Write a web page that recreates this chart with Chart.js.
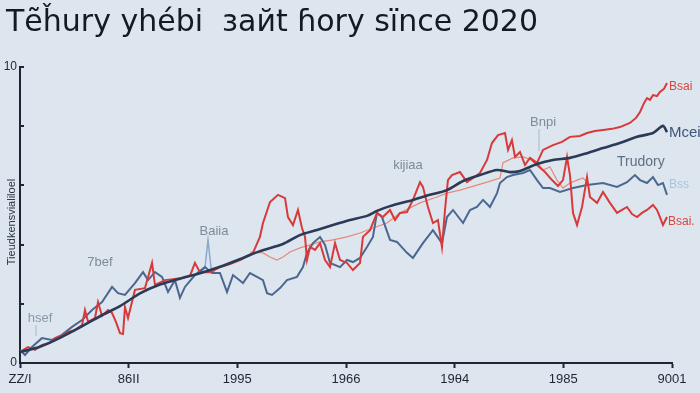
<!DOCTYPE html>
<html>
<head>
<meta charset="utf-8">
<script src="https://cdn.jsdelivr.net/npm/chart.js@4.4.0/dist/chart.umd.min.js"></script>
<style>
  html, body { margin: 0; padding: 0; background: #dde6ee; }
  #cnv { display: block; }
</style>
</head>
<body>
<canvas id="cnv" width="700" height="393"></canvas>
<script>
(function(){

    // tick labels along the bottom (x = 0..6)
    var xLabels = ["ZZ/I", "86II", "1995", "1966", "19θ4", "1985", "9001"];

    // dark navy trend line
    var navyX = [0,0.184,0.368,0.552,0.736,0.92,1.104,1.288,1.472,1.656,1.84,2.052,2.208,2.42,2.577,2.733,2.88,3.037,3.193,3.285,3.405,3.616,3.773,3.929,4.077,4.233,4.39,4.509,4.601,4.758,4.905,5.061,5.218,5.365,5.521,5.678,5.825,5.917,5.954];
    var navyY = [0.37,0.55,0.85,1.20,1.58,1.92,2.35,2.65,2.85,3.03,3.25,3.55,3.78,4.02,4.32,4.49,4.66,4.83,4.97,5.14,5.30,5.51,5.68,5.84,6.15,6.35,6.52,6.45,6.49,6.72,6.86,6.93,7.09,7.26,7.43,7.64,7.77,8.01,7.80];

    // main red series (ends high, "Bsai")
    var redX = [0,0.074,0.138,0.202,0.276,0.322,0.386,0.442,0.506,0.571,0.598,0.626,0.69,0.718,0.755,0.81,0.847,0.883,0.92,0.948,0.966,0.994,1.058,1.15,1.215,1.242,1.334,1.426,1.491,1.564,1.61,1.656,1.748,1.84,1.932,2.024,2.144,2.208,2.236,2.301,2.374,2.439,2.466,2.512,2.558,2.595,2.623,2.641,2.669,2.715,2.761,2.807,2.853,2.899,2.945,3.009,3.064,3.129,3.156,3.221,3.285,3.34,3.405,3.451,3.497,3.561,3.616,3.681,3.708,3.754,3.8,3.846,3.883,3.911,3.938,3.975,4.049,4.113,4.169,4.233,4.298,4.343,4.399,4.463,4.491,4.527,4.555,4.601,4.647,4.693,4.758,4.813,4.905,4.988,5.061,5.153,5.218,5.291,5.365,5.448,5.521,5.613,5.669,5.706,5.742,5.77,5.797,5.825,5.862,5.889,5.926,5.954];
    var redY = [0.37,0.54,0.44,0.61,0.68,0.84,0.91,1.05,1.11,1.28,1.79,1.39,1.52,2.06,1.59,1.79,1.69,1.39,1.01,0.98,1.89,1.52,2.47,2.53,3.38,2.64,2.80,2.84,2.87,2.94,3.38,3.07,3.07,3.24,3.34,3.48,3.72,4.26,4.73,5.44,5.68,5.57,4.93,4.66,5.17,4.56,4.26,3.48,3.92,3.82,4.05,3.48,3.24,4.05,3.48,3.38,3.14,3.38,4.26,4.49,5.07,4.93,5.17,4.83,5.07,5.10,5.51,6.11,5.95,5.27,4.73,4.83,3.92,5.17,6.18,6.35,6.45,6.11,6.25,6.42,6.86,7.43,7.70,7.77,7.20,7.53,6.96,7.13,6.69,6.93,6.76,7.20,7.36,7.47,7.64,7.67,7.77,7.84,7.87,7.91,7.97,8.11,8.28,8.48,8.78,8.95,8.89,9.05,9.02,9.16,9.26,9.46];

    // red branch that falls away ("Bsai.")
    var redLowX = [4.693,4.758,4.831,4.896,4.951,4.997,5.034,5.061,5.089,5.126,5.172,5.218,5.245,5.31,5.365,5.429,5.494,5.54,5.586,5.632,5.678,5.724,5.77,5.825,5.862,5.889,5.917,5.954];
    var redLowY = [6.93,6.69,6.45,6.18,5.98,6.18,6.96,6.35,5.07,4.66,5.27,6.28,5.61,5.41,5.78,5.41,5.07,5.17,5.27,5.03,4.93,5.07,5.17,5.34,5.17,4.93,4.66,4.93];

    // steel blue noisy series ("Bss")
    var blueX = [0,0.046,0.11,0.202,0.294,0.386,0.479,0.571,0.663,0.755,0.847,0.902,0.966,1.058,1.132,1.178,1.242,1.307,1.362,1.426,1.472,1.518,1.61,1.702,1.767,1.84,1.905,1.96,2.052,2.116,2.181,2.236,2.273,2.319,2.393,2.457,2.549,2.604,2.641,2.696,2.761,2.807,2.853,2.945,3.009,3.064,3.129,3.193,3.248,3.285,3.331,3.405,3.469,3.561,3.616,3.708,3.8,3.883,3.929,3.985,4.077,4.141,4.205,4.261,4.325,4.39,4.417,4.481,4.537,4.629,4.693,4.758,4.813,4.877,4.969,5.089,5.218,5.365,5.494,5.586,5.659,5.706,5.77,5.825,5.871,5.917,5.954];
    var blueY = [0.44,0.27,0.54,0.84,0.78,0.95,1.22,1.45,1.79,2.06,2.57,2.36,2.30,2.70,3.07,2.80,3.07,2.91,2.40,2.80,2.20,2.57,2.97,3.24,3.04,3.04,2.40,2.97,2.70,3.04,2.91,2.80,2.36,2.30,2.53,2.80,2.91,3.24,3.72,4.05,4.26,3.99,3.38,3.24,3.48,3.41,3.55,3.92,4.26,5.07,4.93,4.16,4.09,3.72,3.55,4.05,4.49,4.05,4.93,5.17,4.73,5.17,5.27,5.51,5.27,5.74,6.08,6.28,6.35,6.42,6.52,6.18,5.91,5.91,5.78,5.91,6.01,6.08,5.95,6.11,6.35,6.18,6.08,6.28,6.01,6.08,5.68];

    // thin salmon series
    var salmonX = [2.116,2.236,2.301,2.365,2.42,2.485,2.577,2.669,2.761,2.88,3.009,3.129,3.248,3.377,3.497,3.589,3.681,3.837,3.929,4.049,4.205,4.298,4.417,4.445,4.537,4.629,4.758,4.813,4.877,4.942,4.997,5.061,5.126,5.181,5.218];
    var salmonY = [3.75,3.72,3.58,3.48,3.58,3.75,3.89,3.99,4.09,4.16,4.26,4.39,4.56,4.73,5.07,5.24,5.41,5.61,5.74,5.84,6.01,6.11,6.25,6.77,6.93,6.96,6.79,6.52,6.62,6.18,5.91,6.08,6.18,6.25,6.11];

    // pale blue spike under "Baiia"
    var paleX = [1.656,1.702,1.73,1.758,1.804];
    var paleY = [3.04,3.21,4.16,3.21,3.01];

    // floating labels (data coords)
    var annoText = ["hsef", "7bef", "Baiia", "kijiaa", "Bnpi", "Trudory", "Mcei", "Bsai", "Bss", "Bsai."];
    var annoX = [0.184, 0.736, 1.785, 3.570, 4.813, 5.714, 5.972, 5.972, 5.972, 5.963];
    var annoY = [1.52, 3.41, 4.46, 6.66, 8.14, 6.79, 7.77, 9.32, 6.01, 4.76];

    function pts(xs, ys){
        return xs.map(function(x, i){ return {x: x, y: ys[i]}; });
    }

    var annoStyle = [
        {c:"#8a97a6", s:13, a:"center", lead:11},
        {c:"#7d8a99", s:13, a:"center"},
        {c:"#7d8a99", s:13, a:"center"},
        {c:"#7d8a99", s:13, a:"center"},
        {c:"#7d8a99", s:13, a:"center", lead:22},
        {c:"#5f6f84", s:14, a:"center"},
        {c:"#3b5479", s:15, a:"left"},
        {c:"#d8453c", s:12, a:"left"},
        {c:"#a9c3dc", s:12, a:"left"},
        {c:"#d8453c", s:12, a:"left"}
    ];

    var decor = {
        id: "decor",
        beforeDraw: function(chart){
            var ctx = chart.ctx;
            ctx.save();
            ctx.fillStyle = "#dde6ee";
            ctx.fillRect(0, 0, chart.width, chart.height);
            ctx.restore();
        },
        afterDraw: function(chart){
            var ctx = chart.ctx, xs = chart.scales.x, ys = chart.scales.y;
            ctx.save();
            // inward y ticks
            ctx.strokeStyle = "#1f2633";
            ctx.lineWidth = 2;
            [2,4,6,8,10].forEach(function(v){
                var py = Math.round(ys.getPixelForValue(v));
                ctx.beginPath();
                ctx.moveTo(xs.left - 1, py);
                ctx.lineTo(xs.left + 4, py);
                ctx.stroke();
            });
            // y title
            ctx.fillStyle = "#2a3240";
            ctx.font = "11px 'Liberation Sans', Arial, sans-serif";
            ctx.textAlign = "center";
            ctx.textBaseline = "middle";
            ctx.translate(12, 222);
            ctx.rotate(-Math.PI/2);
            ctx.fillText("Tieudkensvialiloel", 0, 0);
            ctx.setTransform(1,0,0,1,0,0);
            // floating labels
            annoText.forEach(function(t, i){
                var st = annoStyle[i];
                var px = xs.getPixelForValue(annoX[i]);
                var py = ys.getPixelForValue(annoY[i]);
                ctx.font = st.s + "px 'Liberation Sans', Arial, sans-serif";
                ctx.fillStyle = st.c;
                ctx.textAlign = st.a;
                ctx.textBaseline = "middle";
                ctx.fillText(t, px, py);
                if (st.lead) {
                    ctx.strokeStyle = "rgba(140,155,175,0.6)";
                    ctx.lineWidth = 1;
                    ctx.beginPath();
                    ctx.moveTo(px - 4, py + 7);
                    ctx.lineTo(px - 4, py + 7 + st.lead);
                    ctx.stroke();
                }
            });
            ctx.restore();
        }
    };

    var line = function(data, color, width, order, tension){
        return {
            data: data,
            borderColor: color,
            borderWidth: width,
            pointRadius: 0,
            tension: tension || 0,
            fill: false,
            order: order
        };
    };

    var myChart = new Chart(document.getElementById("cnv"), {
        type: "line",
        data: {
            datasets: [
                line(pts(salmonX, salmonY), "#e58a78", 1.2, 5),
                line(pts(paleX, paleY), "#8aa7cc", 1.5, 4),
                line(pts(blueX, blueY), "#4b6791", 2, 3),
                line(pts(redLowX, redLowY), "#d8393a", 2, 2),
                line(pts(redX, redY), "#d8393a", 2, 1),
                line(pts(navyX, navyY), "#2b3a56", 2.6, 0, 0.25)
            ]
        },
        options: {
            responsive: false,
            animation: false,
            layout: { padding: { left: 0, right: 28, top: 0, bottom: 0 } },
            plugins: {
                legend: { display: false },
                tooltip: { enabled: false },
                title: {
                    display: true,
                    text: "\u2009Tẽȟury yhébi  зaйt ɦory sïnce 2020",
                    align: "start",
                    color: "#141922",
                    font: { family: "'DejaVu Sans', 'Noto Sans', sans-serif", size: 30, weight: "normal", lineHeight: 1.2 },
                    padding: { top: 5, bottom: 26 }
                }
            },
            scales: {
                x: {
                    type: "linear",
                    min: 0, max: 6,
                    afterFit: function(s){ s.height = 30; },
                    border: { display: true, color: "#1f2633", width: 2 },
                    grid: { drawOnChartArea: false, drawTicks: true, tickLength: 5, tickColor: "#1f2633", tickWidth: 2 },
                    ticks: {
                        stepSize: 1,
                        autoSkip: false,
                        maxRotation: 0,
                        padding: 4,
                        color: "#1f2633",
                        font: { family: "'Liberation Sans Narrow', 'Liberation Sans', Arial, sans-serif", size: 13 },
                        callback: function(v){ return xLabels[v]; }
                    }
                },
                y: {
                    min: 0, max: 10,
                    afterFit: function(s){ s.width = 20; },
                    border: { display: true, color: "#1f2633", width: 2 },
                    grid: { display: false, drawTicks: false },
                    ticks: {
                        stepSize: 2,
                        padding: 3,
                        color: "#1f2633",
                        font: { family: "'Liberation Sans', Arial, sans-serif", size: 12 },
                        callback: function(v){ return (v === 0 || v === 10) ? v : ""; }
                    }
                }
            }
        },
        plugins: [decor]
    });

})();
</script>
</body>
</html>
